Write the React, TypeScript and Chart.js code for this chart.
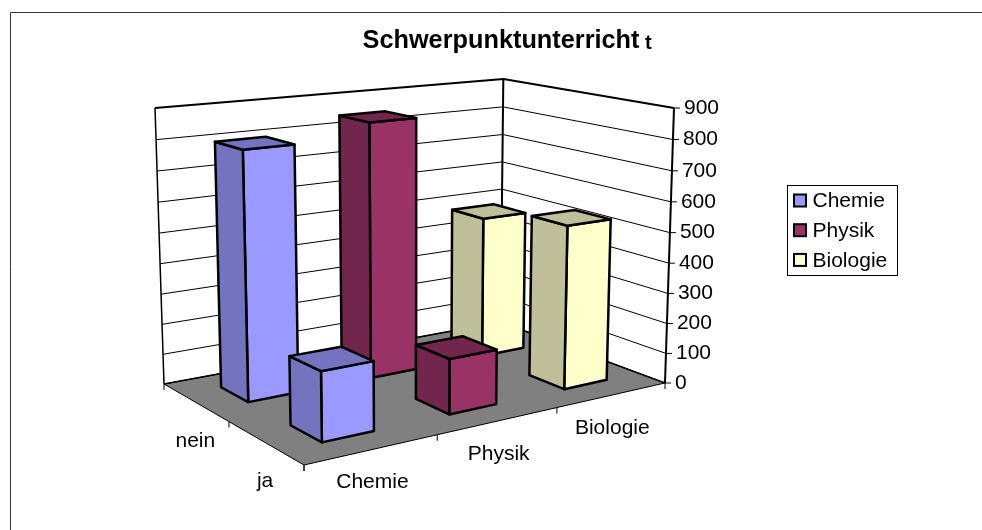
import React, { useEffect, useRef } from "react";
import { Chart, registerables } from "chart.js";

Chart.register(...registerables);

const depthLabels = ["nein", "ja"];
const seriesLabels = ["Chemie", "Physik", "Biologie"];
const chemieValues = [799, 215];
const physikValues = [845, 176];
const biologieValues = [481, 536];
const yMax = 900;
const yStep = 100;
const frontColors = ["#9999FF", "#993366", "#FFFFCC"];
const sideColors = ["#7373BF", "#73264D", "#BFBF99"];
const seriesValues = [chemieValues, physikValues, biologieValues];

const FONT = "'Liberation Sans', Arial, sans-serif";
const P00 = [304, 465];
const P10 = [665, 383];
const P11 = [500.6, 322];
const P01 = [164, 384];
const VANISH = [414, 8060];
const HEIGHT_00 = 318;
const HEIGHT_10 = 275;
const HEIGHT_11 = 243;
const HEIGHT_01 = 276;
const HEIGHT_CURVE = 0.036;
const BAR_HALF_U = 0.066;
const BAR_HALF_V = 0.102;
const BAR_STROKE = 2.5;

function makeFloor() {
  const [x0, y0] = P00, [x1, y1] = P10, [x2, y2] = P11, [x3, y3] = P01;
  const dx1 = x1 - x2, dx2 = x3 - x2, sx = x0 - x1 + x2 - x3;
  const dy1 = y1 - y2, dy2 = y3 - y2, sy = y0 - y1 + y2 - y3;
  const den = dx1 * dy2 - dx2 * dy1;
  const g = (sx * dy2 - dx2 * sy) / den;
  const h = (dx1 * sy - sx * dy1) / den;
  const a = x1 - x0 + g * x1, b = x3 - x0 + h * x3, c = x0;
  const d = y1 - y0 + g * y1, e = y3 - y0 + h * y3, f = y0;
  return (u: number, v: number): [number, number] => {
    const W = g * u + h * v + 1;
    return [(a * u + b * v + c) / W, (d * u + e * v + f) / W];
  };
}

const floorAt = makeFloor();

function project(u: number, v: number, w: number): [number, number] {
  const [fx, fy] = floorAt(u, v);
  const inv =
    (1 - u) * (1 - v) / HEIGHT_00 + u * (1 - v) / HEIGHT_10 + u * v / HEIGHT_11 + (1 - u) * v / HEIGHT_01;
  const rise = w / (1 + HEIGHT_CURVE * (1 - w)) / inv;
  return [fx + ((fx - VANISH[0]) * rise) / (VANISH[1] - fy), fy - rise];
}

function poly(ctx: CanvasRenderingContext2D, pts: [number, number][], fill: string | null, lw: number) {
  ctx.beginPath();
  pts.forEach((p, i) => (i ? ctx.lineTo(p[0], p[1]) : ctx.moveTo(p[0], p[1])));
  ctx.closePath();
  if (fill) {
    ctx.fillStyle = fill;
    ctx.fill();
  }
  if (lw > 0) {
    ctx.lineWidth = lw;
    ctx.strokeStyle = "#000";
    ctx.stroke();
  }
}

function line(ctx: CanvasRenderingContext2D, pts: [number, number][], lw: number, color = "#000") {
  ctx.beginPath();
  pts.forEach((p, i) => (i ? ctx.lineTo(p[0], p[1]) : ctx.moveTo(p[0], p[1])));
  ctx.lineWidth = lw;
  ctx.strokeStyle = color;
  ctx.stroke();
}

const scene3d = {
  id: "scene3d",
  afterLayout(chart: any) {
    const t = chart.titleBlock;
    t.left += 10;
    t.right += 10;
    const l = chart.legend;
    const w = l.width, hgt = l.height;
    l.left = 786;
    l.right = 786 + w;
    l.top = 182;
    l.bottom = 182 + hgt;
  },
  beforeDatasetsDraw(chart: any) {
    const ctx: CanvasRenderingContext2D = chart.ctx;
    const yS = chart.scales.y;
    const xS = chart.scales.x;
    const sS = chart.scales.series;
    const wOf = (val: number) => yS.getDecimalForPixel(yS.getPixelForValue(val));
    const vOf = (i: number) => 1 - xS.getDecimalForPixel(xS.getPixelForValue(i));
    const uOf = (i: number) => sS.getDecimalForPixel(sS.getPixelForValue(i));
    ctx.save();
    ctx.lineJoin = "round";

    // frame
    line(ctx, [[10.5, 530], [10.5, 12.5], [982, 12.5]], 1, "#333");

    // floor
    poly(ctx, [project(0, 0, 0), project(1, 0, 0), project(1, 1, 0), project(0, 1, 0)], "#808080", 1);

    // gridlines
    const ticks = yS.ticks as { value: number }[];
    ticks.forEach((tk) => {
      const w = wOf(tk.value);
      const top = tk.value === yMax;
      if (tk.value === 0) return;
      line(ctx, [project(0, 1, w), project(1, 1, w), project(1, 0, w)], top ? 2 : 1);
    });
    // wall verticals
    line(ctx, [project(0, 1, 0), project(0, 1, 1)], 1.5);
    line(ctx, [project(1, 1, 0), project(1, 1, 1)], 2);
    line(ctx, [project(1, 0, 0), project(1, 0, 1)], 2);
    line(ctx, [project(0, 1, 0), project(1, 1, 0), project(1, 0, 0)], 1.5);

    // axis ticks and labels
    ctx.fillStyle = "#000";
    ctx.font = `21px ${FONT}`;
    ctx.textBaseline = "middle";
    ctx.textAlign = "left";
    ticks.forEach((tk) => {
      const p = project(1, 0, wOf(tk.value));
      line(ctx, [p, [p[0] + 6, p[1]]], 1);
      ctx.fillStyle = "#000";
      ctx.fillText(String(tk.value), p[0] + 10, p[1]);
    });
    const nU = seriesLabels.length;
    for (let i = 0; i <= nU; i++) {
      const p = project(i / nU, 0, 0);
      line(ctx, [p, [p[0], p[1] + 6]], 1);
    }
    const nV = depthLabels.length;
    for (let i = 0; i <= nV; i++) {
      const p = project(0, i / nV, 0);
      line(ctx, [p, [p[0], p[1] + 6]], 1);
    }
    ctx.fillStyle = "#000";
    ctx.textAlign = "center";
    seriesLabels.forEach((s, i) => {
      const p = project(uOf(i), 0, 0);
      ctx.fillText(s, p[0], p[1] + 33);
    });
    depthLabels.forEach((s, i) => {
      const p = project(0, vOf(i), 0);
      ctx.fillText(s, p[0], p[1] + 39);
    });

    // bars: back row first, from right to left
    depthLabels.forEach((_, row) => {
      for (let s = chart.data.datasets.length - 1; s >= 0; s--) {
        const ds = chart.data.datasets[s];
        const w = wOf(ds.data[row]);
        const u = uOf(s), v = vOf(row);
        const u0 = u - BAR_HALF_U, u1 = u + BAR_HALF_U, v0 = v - BAR_HALF_V, v1 = v + BAR_HALF_V;
        poly(ctx, [project(u0, v0, 0), project(u1, v0, 0), project(u1, v0, w), project(u0, v0, w)], ds.backgroundColor, BAR_STROKE);
        poly(ctx, [project(u0, v1, 0), project(u0, v0, 0), project(u0, v0, w), project(u0, v1, w)], sideColors[s], BAR_STROKE);
        poly(ctx, [project(u0, v0, w), project(u1, v0, w), project(u1, v1, w), project(u0, v1, w)], sideColors[s], BAR_STROKE);
      }
    });
    ctx.restore();
    return false;
  },
  afterDraw(chart: any) {
    const ctx: CanvasRenderingContext2D = chart.ctx;
    ctx.save();
    ctx.strokeStyle = "#000";
    ctx.lineWidth = 1;
    ctx.strokeRect(787.5, 185.5, 110, 90);
    chart.data.datasets.forEach((ds: any, i: number) => {
      const y = 194.5 + i * 29.7;
      ctx.fillStyle = ds.backgroundColor;
      ctx.lineWidth = 2;
      ctx.fillRect(794, y, 12, 12);
      ctx.strokeRect(794, y, 12, 12);
    });
    ctx.fillStyle = "#000";
    ctx.font = `bold 20px ${FONT}`;
    ctx.textAlign = "left";
    ctx.textBaseline = "alphabetic";
    ctx.fillText("t", 645, 49);
    ctx.restore();
  },
};

export default function App() {
  const ref = useRef<HTMLCanvasElement | null>(null);
  useEffect(() => {
    document.body.style.margin = "0";
    const chart = new Chart(ref.current!, {
      type: "bar",
      data: {
        labels: depthLabels,
        datasets: seriesLabels.map((label, i) => ({
          label,
          data: seriesValues[i],
          backgroundColor: frontColors[i],
          borderColor: "#000",
          borderWidth: 2,
        })),
      },
      options: {
        responsive: false,
        animation: false,
        events: [],
        scales: {
          x: { display: false },
          series: { type: "category", axis: "x", labels: seriesLabels, offset: true, display: false },
          y: { display: false, min: 0, max: yMax, ticks: { stepSize: yStep } },
        },
        plugins: {
          tooltip: { enabled: false },
          title: {
            display: true,
            text: "Schwerpunktunterricht",
            color: "#000",
            font: { family: FONT, size: 25.3, weight: "bold" },
            padding: { top: 26, bottom: 10 },
          },
          legend: {
            position: "right",
            align: "start",
            labels: {
              color: "#000",
              font: { family: FONT, size: 21 },
              boxWidth: 7,
              boxHeight: 7,
              padding: 9,
            },
          },
        },
      } as any,
      plugins: [scene3d as any],
    });
    return () => chart.destroy();
  }, []);
  return <canvas ref={ref} width={982} height={530} style={{ display: "block" }} />;
}
